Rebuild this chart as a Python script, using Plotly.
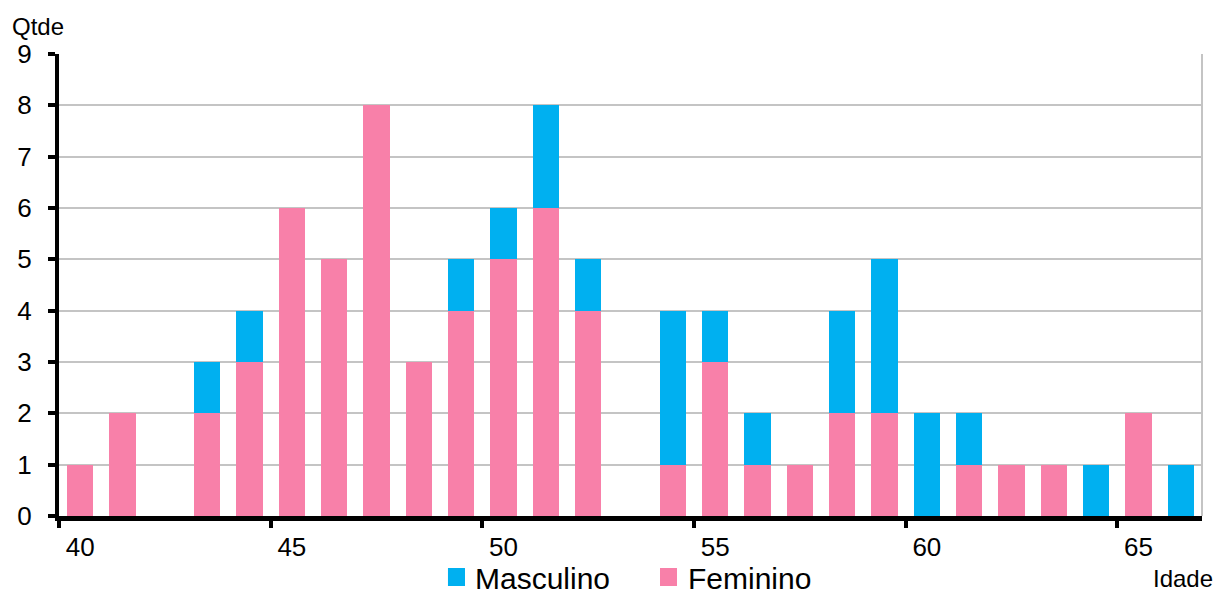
import plotly.graph_objects as go

ages = list(range(40, 67))
feminino = [1, 2, 0, 2, 3, 6, 5, 8, 3, 4, 5, 6, 4, 0, 1, 3, 1, 1, 2, 2, 0, 1, 1, 1, 0, 2, 0]
masculino = [0, 0, 0, 1, 1, 0, 0, 0, 0, 1, 1, 2, 1, 0, 3, 1, 1, 0, 2, 3, 2, 1, 0, 0, 1, 0, 1]
x_tick_vals = [40, 45, 50, 55, 60, 65]
y_ticks = list(range(0, 10))
series_names = ["Masculino", "Feminino"]

PINK = "#F880A9"
BLUE = "#00B0F0"
FONT = "Liberation Sans"

xc = [a + 0.5 for a in ages]

fig = go.Figure()
fig.add_trace(go.Bar(x=xc, y=feminino, name="Feminino", marker=dict(color=PINK, line=dict(width=0)),
                     width=0.62, showlegend=False))
fig.add_trace(go.Bar(x=xc, y=masculino, name="Masculino", marker=dict(color=BLUE, line=dict(width=0)),
                     width=0.62, showlegend=False))

fig.update_layout(
    barmode="stack",
    width=1218, height=595,
    margin=dict(l=59, r=16, t=54, b=79, autoexpand=False),
    plot_bgcolor="white", paper_bgcolor="white",
    font=dict(family=FONT, color="black", size=26),
    showlegend=False,
    xaxis=dict(range=[40, 67], tickmode="array",
               tickvals=[v + 0.5 for v in x_tick_vals], ticktext=[str(v) for v in x_tick_vals],
               ticks="", showgrid=False, zeroline=False, automargin=False,
               showline=True, linecolor="black", linewidth=5,
               minor=dict(tickmode="array", tickvals=x_tick_vals, ticks="outside", ticklen=7, tickwidth=4,
                          tickcolor="black", showgrid=False),
               tickfont=dict(size=26), ticklabelstandoff=4, fixedrange=True),
    yaxis=dict(range=[0, 9], tickmode="array", tickvals=y_ticks, ticktext=[str(v) for v in y_ticks],
               ticks="outside", ticklen=7, tickwidth=4, tickcolor="black", automargin=False,
               showgrid=True, gridcolor="#C4C4C4", gridwidth=2, zeroline=False,
               showline=True, linecolor="black", linewidth=4,
               tickfont=dict(size=26), ticklabelstandoff=11, fixedrange=True),
)

# right border of plot area
fig.add_shape(type="line", xref="paper", yref="paper", x0=1, x1=1, y0=0, y1=1,
              line=dict(color="#C4C4C4", width=2))

# legend (manual, to match spacing)
leg = [(series_names[0], BLUE, 0.3403, 0.3552, 0.3622),
       (series_names[1], PINK, 0.5258, 0.5407, 0.5486)]
for name, col, x0, x1, xt in leg:
    fig.add_shape(type="rect", xref="paper", yref="paper", x0=x0, x1=x1, y0=-0.1515, y1=-0.1126,
                  fillcolor=col, line=dict(width=0))
    fig.add_annotation(text=name, xref="paper", yref="paper", x=xt, y=-0.136, xanchor="left",
                       yanchor="middle", showarrow=False, font=dict(size=30, family=FONT))

fig.add_annotation(text="Qtde", xref="paper", yref="paper", x=-0.0429, y=1.093, xanchor="left", yanchor="top",
                   showarrow=False, font=dict(size=24, family=FONT))
fig.add_annotation(text="Idade", xref="paper", yref="paper", x=1.0114, y=-0.102, xanchor="right", yanchor="top",
                   showarrow=False, font=dict(size=24, family=FONT))

fig.write_html("out.html", config={"displayModeBar": False},
               post_script="document.body.style.margin='0';document.body.style.overflow='hidden';")
